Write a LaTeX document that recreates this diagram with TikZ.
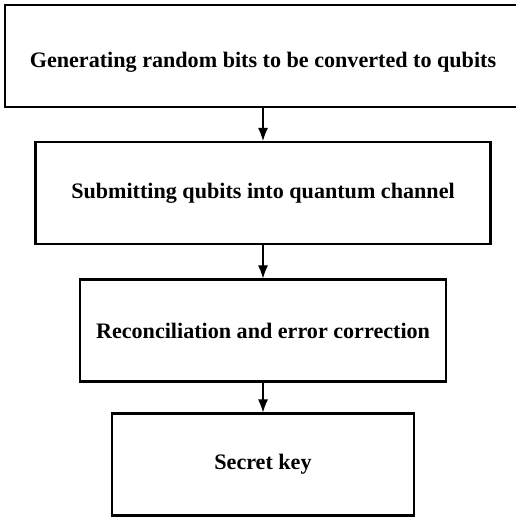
\documentclass[tikz,border=0pt]{standalone}
\usepackage{fontspec}
\setmainfont{Liberation Serif}
\usetikzlibrary{arrows.meta}
\tikzset{%
  >={Latex[length=13bp,width=10bp]},
  procbox/.style={draw,line width=2.2bp,inner sep=0pt,minimum height=102bp,
    font=\fontsize{22.2}{26}\selectfont\bfseries},%
  flow/.style={->,line width=1.1bp}%
}

\begin{document}
\begin{tikzpicture}[x=1bp,y=-1bp]
\useasboundingbox (0,0) rectangle (516,517);

% the four stages, top to bottom
\node[procbox,minimum width=516bp,text height=29bp,text depth=5bp] (gen) at (263,56) {Generating random bits to be converted to qubits};
\node[procbox,minimum width=455bp] (submit) at (263,193) {Submitting qubits into quantum channel};
\node[procbox,minimum width=366bp] (recon) at (263,330.5) {Reconciliation and error correction};
\node[procbox,minimum width=302bp] (key) at (263,464.5) {Secret key};

\draw[flow] (gen) -- (submit);
\draw[flow] (submit) -- (recon);
\draw[flow] (recon) -- (key);
\end{tikzpicture}
\end{document}
